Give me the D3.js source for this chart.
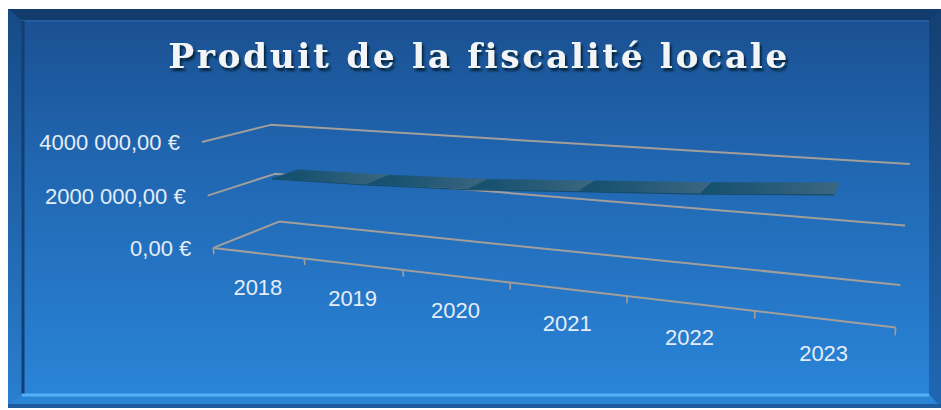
<!DOCTYPE html>
<html><head><meta charset="utf-8">
<script src="https://cdn.jsdelivr.net/npm/d3@7"></script>
<style>html,body{margin:0;padding:0;background:#fff;} svg{display:block;}</style>
</head><body><svg id="chart" width="941" height="410"></svg>
<script>
// ---------- data ----------
const chartTitle = "Produit de la fiscalité locale";
const categories = ["2018", "2019", "2020", "2021", "2022", "2023"];
const values = [2550000, 2620000, 2750000, 2990000, 3220000, 3510000];
const yTicks = [0, 2000000, 4000000];
const yTickLabels = ["0,00 €", "2000 000,00 €", "4000 000,00 €"];
const yMax = 4000000;

// ---------- layout ----------
const W = 941, H = 410;
const svg = d3.select("#chart");
const defs = svg.append("defs");

// world scales (category index, value, depth) -> normalised world cube
const xW = d3.scaleLinear().domain([0, categories.length]).range([-1, 1]);
const yW = d3.scaleLinear().domain([0, yMax]).range([-1, 1]);
const zW = d3.scaleLinear().domain([0, 1]).range([-1, 1]);
// screen normalisation
const uS = d3.scaleLinear().domain([-1, 1]).range([170, 770]);
const vS = d3.scaleLinear().domain([-1, 1]).range([-70, 530]);

// calibration of the 3D perspective (box corners on screen)
const n6 = categories.length;
const calib = [
  [[0, 0, 0], [213, 248]], [[n6, 0, 0], [896, 327]],
  [[0, 0, 1], [280, 222]], [[n6, 0, 1], [900, 285]],
  [[0, yMax, 0], [203, 143]], [[0, yMax, 1], [270, 124]],
  [[n6, yMax, 1], [910, 164]], [[0, yMax / 2, 0], [207, 195]],
  [[n6, yMax / 2, 1], [905, 226]],
  [[1, 0, 0], [304, 258.5]], [[2, 0, 0], [403, 270]], [[3, 0, 0], [510, 282.5]],
  [[4, 0, 0], [627, 296]], [[5, 0, 0], [755, 311]]
];
function solveProjection(pairs) {
  const rows = [], rhs = [];
  pairs.forEach(([[c, v, d], [u, w]]) => {
    const X = xW(c), Y = yW(v), Z = zW(d);
    const U = uS.invert(u), V = vS.invert(w);
    rows.push([X, Y, Z, 1, 0, 0, 0, 0, -U * X, -U * Y, -U * Z]); rhs.push(U);
    rows.push([0, 0, 0, 0, X, Y, Z, 1, -V * X, -V * Y, -V * Z]); rhs.push(V);
  });
  const n = 11;
  const M = Array.from({length: n}, () => new Array(n + 1).fill(0));
  rows.forEach((r, k) => {
    for (let i = 0; i < n; i++) {
      for (let j = 0; j < n; j++) M[i][j] += r[i] * r[j];
      M[i][n] += r[i] * rhs[k];
    }
  });
  for (let i = 0; i < n; i++) {
    let p = i;
    for (let r = i + 1; r < n; r++) if (Math.abs(M[r][i]) > Math.abs(M[p][i])) p = r;
    [M[i], M[p]] = [M[p], M[i]];
    for (let r = 0; r < n; r++) {
      if (r === i) continue;
      const f = M[r][i] / M[i][i];
      for (let c = i; c <= n; c++) M[r][c] -= f * M[i][c];
    }
  }
  return M.map((r, i) => r[n] / r[i]);
}
const P = solveProjection(calib);
function proj(c, v, d) {
  const X = xW(c), Y = yW(v), Z = zW(d);
  const w = P[8] * X + P[9] * Y + P[10] * Z + 1;
  const U = (P[0] * X + P[1] * Y + P[2] * Z + P[3]) / w;
  const V = (P[4] * X + P[5] * Y + P[6] * Z + P[7]) / w;
  return [uS(U), vS(V)];
}

// ---------- frame / background ----------
const bg = defs.append("linearGradient").attr("id", "bg").attr("x1", 0).attr("y1", 0).attr("x2", 0).attr("y2", 1);
bg.append("stop").attr("offset", "0%").attr("stop-color", "#1a4f8f");
bg.append("stop").attr("offset", "35%").attr("stop-color", "#2064ae");
bg.append("stop").attr("offset", "100%").attr("stop-color", "#2a86da");
const lb = defs.append("linearGradient").attr("id", "lb").attr("x1", 0).attr("y1", 0).attr("x2", 0).attr("y2", 1);
lb.append("stop").attr("offset", "0%").attr("stop-color", "#164a86");
lb.append("stop").attr("offset", "100%").attr("stop-color", "#2a7fd0");
const rb = defs.append("linearGradient").attr("id", "rb").attr("x1", 0).attr("y1", 0).attr("x2", 0).attr("y2", 1);
rb.append("stop").attr("offset", "0%").attr("stop-color", "#143f72");
rb.append("stop").attr("offset", "100%").attr("stop-color", "#1f68b4");

const fx0 = 8, fy0 = 9, fx1 = 941, fy1 = 408;
svg.append("rect").attr("x", fx0).attr("y", fy0).attr("width", fx1 - fx0).attr("height", fy1 - fy0).attr("fill", "url(#bg)");
// bevels
svg.append("polygon").attr("points", [[fx0, fy0], [fx1, fy0], [fx1 - 12, fy0 + 12], [fx0 + 14, fy0 + 12]].join(" ")).attr("fill", "#113c6d");
svg.append("line").attr("x1", fx0 + 14).attr("y1", fy0 + 12).attr("x2", fx1 - 12).attr("y2", fy0 + 12).attr("stroke", "#2a66a8").attr("stroke-width", 1.5);
svg.append("polygon").attr("points", [[fx0, fy0], [fx0 + 14, fy0 + 12], [fx0 + 14, fy1 - 14], [fx0, fy1]].join(" ")).attr("fill", "url(#lb)");
svg.append("line").attr("x1", fx0 + 15).attr("y1", fy0 + 12).attr("x2", fx0 + 15).attr("y2", fy1 - 14).attr("stroke", "#123f73").attr("stroke-width", 3);
svg.append("polygon").attr("points", [[fx1, fy0], [fx1 - 12, fy0 + 12], [fx1 - 12, fy1 - 14], [fx1, fy1]].join(" ")).attr("fill", "url(#rb)");
svg.append("polygon").attr("points", [[fx0, fy1], [fx0 + 14, fy1 - 14], [fx1 - 12, fy1 - 14], [fx1, fy1]].join(" ")).attr("fill", "#2b85d6");
svg.append("line").attr("x1", fx0 + 14).attr("y1", fy1 - 13).attr("x2", fx1 - 12).attr("y2", fy1 - 13).attr("stroke", "#55b0f8").attr("stroke-width", 3);
svg.append("line").attr("x1", fx0).attr("y1", fy1 - 2).attr("x2", fx1).attr("y2", fy1 - 2).attr("stroke", "#1d5c9c").attr("stroke-width", 4);

// ---------- title ----------
const shadow = defs.append("filter").attr("id", "tshadow").attr("x", "-5%").attr("y", "-30%").attr("width", "110%").attr("height", "160%");
shadow.append("feDropShadow").attr("dx", 2).attr("dy", 3).attr("stdDeviation", 1.3)
  .attr("flood-color", "#061a33").attr("flood-opacity", 0.9);
const titleG = svg.append("g").attr("filter", "url(#tshadow)");
const titleT = titleG.append("text").attr("x", 0).attr("y", 0).attr("text-anchor", "middle")
  .attr("font-family", "DejaVu Serif").attr("font-weight", "bold").attr("font-size", 33)
  .attr("letter-spacing", 2.5)
  .attr("fill", "#f2f4f6").text(chartTitle);
const tLen = titleT.node().getComputedTextLength();
titleT.attr("transform", `translate(479,68) scale(${622 / tLen},1)`);

// ---------- gridlines / walls ----------
const gridColor = "#a29e9a";
const line = d3.line();
const g = svg.append("g").attr("fill", "none").attr("stroke", gridColor).attr("stroke-width", 2).attr("stroke-linejoin", "round");
yTicks.forEach(t => {
  g.append("path").attr("d", line([proj(0, t, 0), proj(0, t, 1), proj(n6, t, 1)]));
});
// floor front edge + ticks
g.append("path").attr("d", line([proj(0, 0, 0), proj(n6, 0, 0)]));
d3.range(n6 + 1).forEach(i => {
  g.append("path").attr("d", line([proj(i, 0, 0), proj(i, -yMax * 0.06, 0)])).attr("stroke-width", 1.6);
});

// ---------- series ribbon (3D line) ----------
const z1 = 0.3, z2 = 0.7, thick = yMax * 0.012;
const rib = svg.append("g");
for (let i = 0; i < values.length - 1; i++) {
  const c0 = i + 0.5, c1 = i + 1.5, v0 = values[i], v1 = values[i + 1];
  const a = proj(c0, v0, z2), b = proj(c1, v1, z2);
  const gid = "seg" + i;
  const gr = defs.append("linearGradient").attr("id", gid).attr("gradientUnits", "userSpaceOnUse")
    .attr("x1", a[0]).attr("y1", a[1]).attr("x2", b[0]).attr("y2", b[1]);
  gr.append("stop").attr("offset", "0%").attr("stop-color", "#16516f");
  gr.append("stop").attr("offset", "100%").attr("stop-color", "#3c6680");
  // front face
  rib.append("path").attr("d", line([proj(c0, v0, z1), proj(c1, v1, z1), proj(c1, v1 - thick, z1), proj(c0, v0 - thick, z1)]) + "Z")
    .attr("fill", "#174a66");
  // top face
  rib.append("path").attr("d", line([proj(c0, v0, z1), proj(c1, v1, z1), proj(c1, v1, z2), proj(c0, v0, z2)]) + "Z")
    .attr("fill", "url(#" + gid + ")").attr("stroke", "url(#" + gid + ")").attr("stroke-width", 0.5);
}

// ---------- axis labels ----------
const labelColor = "#e4edf7";
svg.append("g").selectAll("text").data(categories).join("text")
  .attr("x", (d, i) => proj(i + 0.5, 0, 0)[0])
  .attr("y", (d, i) => proj(i + 0.5, 0, 0)[1] + 34)
  .attr("dy", "0.36em").attr("text-anchor", "middle")
  .attr("font-family", "Liberation Sans, Arial, sans-serif").attr("font-size", 22)
  .attr("fill", labelColor).text(d => d);
svg.append("g").selectAll("text").data(yTicks).join("text")
  .attr("x", d => proj(0, d, 0)[0] - 22)
  .attr("y", d => proj(0, d, 0)[1])
  .attr("dy", "0.36em").attr("text-anchor", "end")
  .attr("font-family", "Liberation Sans, Arial, sans-serif").attr("font-size", 22)
  .attr("fill", labelColor).text((d, i) => yTickLabels[i]);
</script>
</body></html>
